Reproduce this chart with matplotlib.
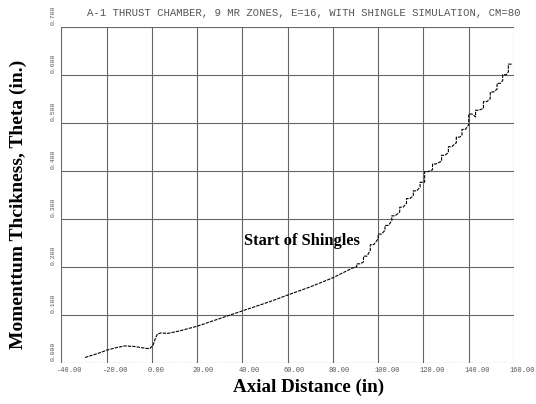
import matplotlib
matplotlib.use("Agg")
import matplotlib.pyplot as plt
import matplotlib.transforms as mtransforms

# smooth part of the curve, before the shingles start
axial_x = [-29.5, -24, -20, -16, -12, -8, -4, -1, 0.5, 1.5, 2.5, 4, 7, 12,
           20, 30, 40, 52, 60, 70, 80, 88.5]
theta = [0.011, 0.019, 0.026, 0.031, 0.035, 0.034, 0.031, 0.029, 0.036,
         0.050, 0.060, 0.062, 0.061, 0.066, 0.076, 0.092, 0.108, 0.127,
         0.141, 0.158, 0.177, 0.197]

# shingle steps: location, theta just before the jump, theta just after
shingle_x = [90.5, 93.5, 96.5, 100.0, 103.0, 106.0, 109.5, 112.5, 115.5,
             118.5, 120.5, 124.0, 128.0, 131.0, 134.5, 137.0, 140.0, 143.0,
             146.5, 149.5, 152.5, 155.0, 157.5]
theta_before = [0.200, 0.210, 0.234, 0.258, 0.276, 0.296, 0.314, 0.332,
                0.348, 0.366, 0.376, 0.402, 0.420, 0.438, 0.458, 0.474,
                0.496, 0.512, 0.530, 0.550, 0.570, 0.588, 0.606]
theta_after = [0.206, 0.222, 0.246, 0.268, 0.286, 0.306, 0.324, 0.342,
               0.358, 0.376, 0.398, 0.414, 0.432, 0.450, 0.470, 0.486,
               0.518, 0.526, 0.544, 0.564, 0.582, 0.600, 0.622]
step_len = 1.5

x_ticks = [-40, -20, 0, 20, 40, 60, 80, 100, 120, 140, 160]
y_ticks = [0.0, 0.1, 0.2, 0.3, 0.4, 0.5, 0.6, 0.7]

title = "A-1 THRUST CHAMBER, 9 MR ZONES, E=16, WITH SHINGLE SIMULATION, CM=80"

fig = plt.figure(figsize=(5.36, 4.04), dpi=100)
ax = fig.add_axes([0.1144, 0.1022, 0.8446, 0.8317])

ax.set_xlim(-40, 160)
ax.set_ylim(0, 0.7)

for xv in x_ticks:
    ax.axvline(xv, color="#666666", lw=0.8, zorder=1)
for yv in y_ticks[1:]:
    ax.axhline(yv, color="#666666", lw=0.8, zorder=1)
ax.axhline(0, color="#777777", lw=0.9, ls=(0, (1, 1)), zorder=1)

for s in ax.spines.values():
    s.set_visible(False)
ax.set_xticks([])
ax.set_yticks([])

# build the staircase from the step lists
xs = list(axial_x)
ys = list(theta)
for sx, lo, hi in zip(shingle_x, theta_before, theta_after):
    xs += [sx, sx, sx + step_len]
    ys += [lo, hi, hi]

ax.plot(xs, ys, color="black", lw=0.8, ls=(0, (3, 1)), zorder=3)

# tick labels in a small plotter-style font
mono = "Liberation Mono"
for xv in x_ticks:
    off = mtransforms.offset_copy(ax.transData, fig=fig, x=-3, y=-3, units="points")
    ax.text(xv, 0, f"{xv:.2f}", transform=off, ha="left", va="top",
            fontsize=5, family=mono, color="#555555")
for yv in y_ticks:
    off = mtransforms.offset_copy(ax.transData, fig=fig, x=-4, y=1, units="points")
    ax.text(-40, yv, f"{yv:.3f}", transform=off, ha="left", va="bottom",
            rotation=90, rotation_mode="anchor", fontsize=4.6, family=mono,
            color="#555555")

fig.text(0.566, 0.968, title, ha="center", va="center", fontsize=7.7,
         family=mono, color="#555555")

ax.text(66.5, 0.254, "Start of Shingles", ha="center", va="center",
        fontsize=11.8, family="Liberation Serif", fontweight="bold", zorder=4)

fig.text(0.575, 0.042, "Axial Distance (in)", ha="center", va="center",
         fontsize=13.7, family="Liberation Serif", fontweight="bold")
fig.text(0.034, 0.493, "Momenttum Thcikness, Theta (in.)", ha="center",
         va="center", rotation=90, fontsize=14, family="Liberation Serif",
         fontweight="bold")

fig.savefig("out.png", dpi=100)
